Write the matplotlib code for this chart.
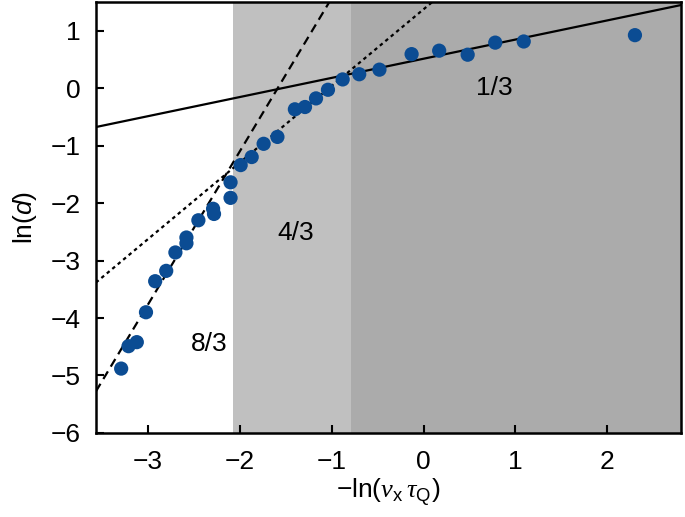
import matplotlib
matplotlib.use('Agg')
import matplotlib.pyplot as plt
import numpy as np

plt.rcParams['font.family'] = ['Liberation Sans', 'DejaVu Sans']
plt.rcParams['mathtext.fontset'] = 'custom'
plt.rcParams['mathtext.rm'] = 'Liberation Sans'
plt.rcParams['mathtext.it'] = 'Liberation Sans:italic'
plt.rcParams['mathtext.cal'] = 'Liberation Serif:italic'
plt.rcParams['axes.unicode_minus'] = True

# data
x_pts = [-3.29, -3.21, -3.12, -3.02, -2.92, -2.80, -2.70, -2.58, -2.58, -2.45,
         -2.29, -2.28, -2.10, -2.10, -1.99, -1.87, -1.74, -1.59, -1.40, -1.29,
         -1.17, -1.04, -0.88, -0.70, -0.48, -0.13, 0.17, 0.48, 0.78, 1.09, 2.30]
y_pts = [-4.88, -4.49, -4.42, -3.90, -3.36, -3.18, -2.86, -2.60, -2.70, -2.30,
         -2.10, -2.19, -1.91, -1.64, -1.34, -1.20, -0.97, -0.85, -0.37, -0.33,
         -0.18, -0.03, 0.15, 0.24, 0.32, 0.59, 0.65, 0.58, 0.79, 0.81, 0.92]

slopes = [1/3, 4/3, 8/3]
intercepts = [0.51, 1.37, 4.23]
styles = ['-', (0, (1.6, 1.6)), (0, (4, 2.5))]
slope_labels = ['1/3', '4/3', '8/3']
label_pos = [(0.77, 0.0), (-1.39, -2.52), (-2.33, -4.45)]

regions = [(-2.07, -0.79, '#c0c0c0'), (-0.79, 2.8, '#ababab')]

xlim = (-3.565, 2.8)
ylim = (-6, 1.5)

fig = plt.figure(figsize=(6.85, 5.17), dpi=100)
ax = fig.add_axes([0.140, 0.1625, 0.854, 0.834])

for x0, x1, c in regions:
    ax.axvspan(x0, x1, color=c, lw=0, zorder=0)

xx = np.array(xlim)
for m, b, ls in zip(slopes, intercepts, styles):
    ax.plot(xx, m * xx + b, color='black', lw=1.6, linestyle=ls, zorder=2)

ax.scatter(x_pts, y_pts, s=105, color='#0b4c93', edgecolors='none', zorder=3)

for lab, (tx, ty) in zip(slope_labels, label_pos):
    ax.text(tx, ty, lab, fontsize=19, ha='center', va='center')

ax.set_xlim(*xlim)
ax.set_ylim(*ylim)
ax.set_xticks([-3, -2, -1, 0, 1, 2])
ax.set_yticks([-6, -5, -4, -3, -2, -1, 0, 1])
ax.tick_params(direction='in', length=6, width=1.5, labelsize=19)
ax.tick_params(axis='x', pad=12)
ax.tick_params(axis='y', pad=11)
for s in ax.spines.values():
    s.set_linewidth(1.8)

ax.set_xlabel(r'$-\mathrm{ln}(\mathcal{\nu}_\mathrm{x}\,\mathcal{\tau}_\mathrm{Q})$', fontsize=19, labelpad=2)
ax.set_ylabel(r'$\mathrm{ln}(d)$', fontsize=19, labelpad=8)

fig.savefig('out.png', dpi=100)
